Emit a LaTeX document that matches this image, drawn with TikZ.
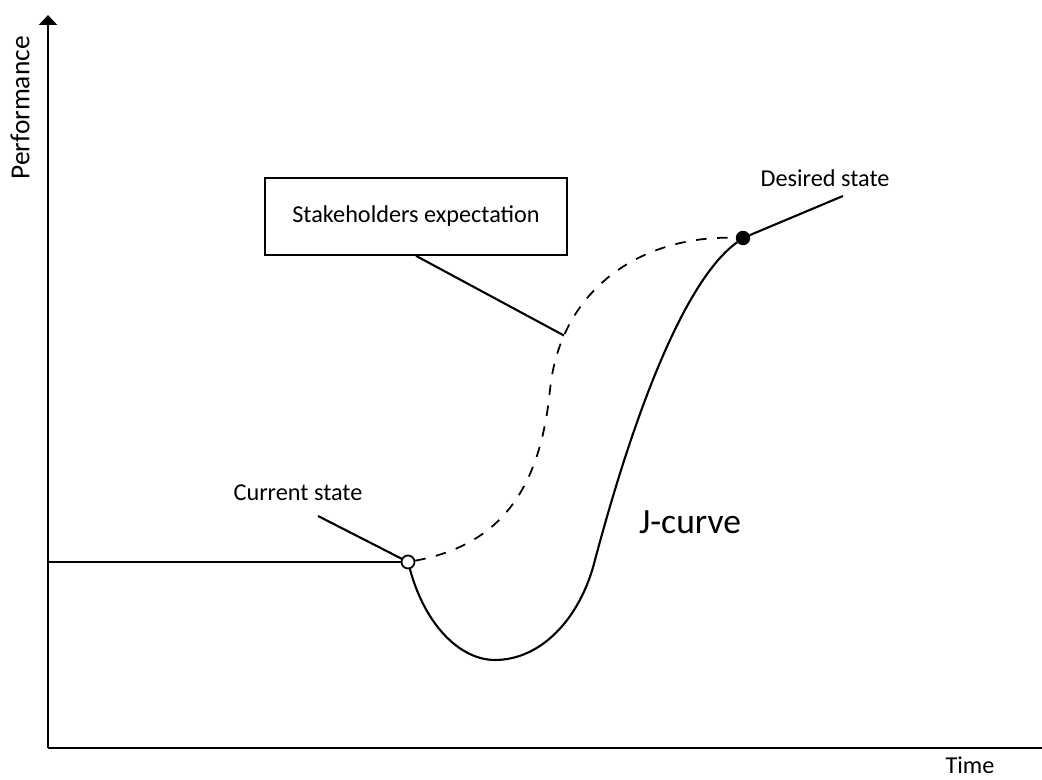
\documentclass[tikz,border=0pt]{standalone}
\usepackage{fontspec}
\setmainfont{Carlito}
\usetikzlibrary{arrows.meta, positioning, calc}

\begin{document}
\begin{tikzpicture}[scale=1]
	\tikzstyle{axis} = [line width=.6pt, draw]
	\tikzstyle{curve} = [line width=.6pt, draw]
	\tikzstyle{lbl} = [font=\fontsize{6.9}{8}\selectfont, inner sep=1pt]
	\tikzstyle{opendot} = [draw, circle, fill=white, line width=.5pt, minimum size=.13cm, inner sep=0pt]
	\tikzstyle{fulldot} = [draw, circle, fill=black, minimum size=.13cm, inner sep=0pt]
	
	\useasboundingbox (0,0) rectangle (10.42,7.8);
	
	\coordinate (O) at (0.48,0.32);
	\coordinate (ytop) at (0.48,7.65);
	\coordinate (xend) at (10.42,0.32);
	\coordinate (base) at (0.48,2.18);
	\coordinate (low) at (4.95,1.20);
	\coordinate (rise) at (5.95,2.20);
	\coordinate (turn) at (5.50,3.90);
	\coordinate (curtip) at (3.18,2.64);
	\coordinate (destip) at (8.43,5.84);
	
	\node[lbl, rotate=90, font=\fontsize{7.8}{9}\selectfont] (perf) at (0.2,6.72) {Performance};
	\node[lbl] (time) at (9.7,0.15) {Time};
	
	\node[draw, rectangle, line width=.5pt, minimum width=3.02cm, minimum height=.77cm, font=\fontsize{6.9}{8}\selectfont] (expect) at (4.16,5.635) {Stakeholders expectation};
	\node[lbl] (curlbl) at (2.98,2.87) {Current state};
	\node[lbl] (deslbl) at (8.25,6.02) {Desired state};
	\node[font=\fontsize{10.1}{12}\selectfont] (jlbl) at (6.9,2.58) {J-curve};
	
	% axes
	\draw[axis, -{Triangle[width=1.8mm, length=1mm]}] (O) -- (ytop);
	\draw[axis] (O) -- (xend);
	
	\node[fulldot] (des) at (7.43,5.42) {};
	\node[opendot] (cur) at (4.08,2.18) {};
	
	\draw[curve] (base) -- (cur);
	
	% J-curve
	\draw[curve] (cur) .. controls (4.25,1.55) and (4.6,1.2) .. (low)
		.. controls (5.4,1.2) and (5.8,1.6) .. (rise)
		.. controls (6.35,3.7) and (6.85,5.0) .. (des);
	
	% expectation
	\draw[curve, dashed, line width=.5pt] (cur) .. controls (5.0,2.35) and (5.4,2.9) .. (turn)
		.. controls (5.6,4.9) and (6.4,5.45) .. (des) coordinate[pos=0.2] (exp);
	
	\draw[curve] (expect.south) -- (exp);
	\draw[curve] (curtip) -- (cur);
	\draw[curve] (des) -- (destip);
\end{tikzpicture}
\end{document}
